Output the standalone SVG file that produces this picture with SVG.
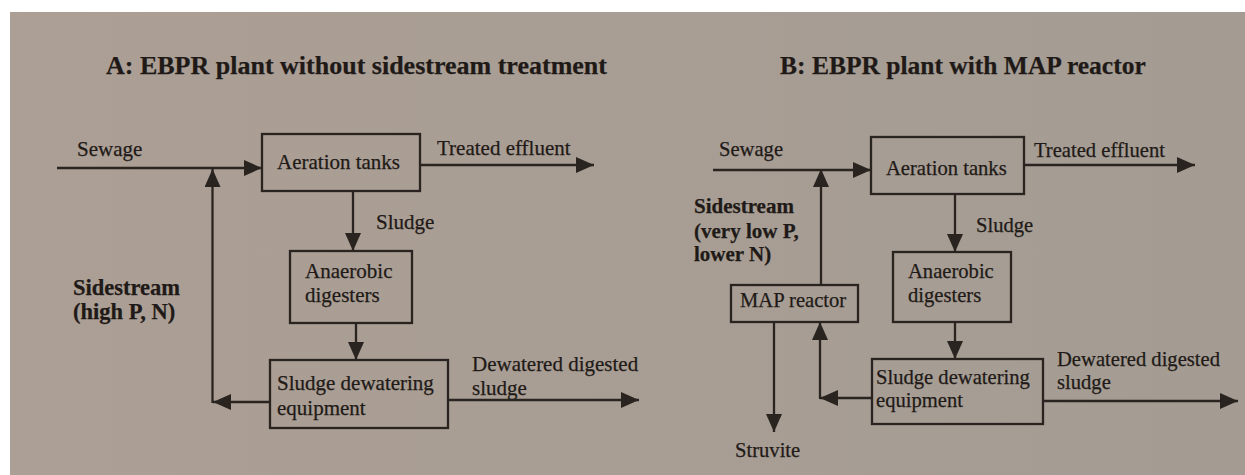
<svg xmlns="http://www.w3.org/2000/svg" width="1245" height="475" viewBox="0 0 1245 475">
  <defs>
    <linearGradient id="paper" x1="0" y1="0" x2="1" y2="0">
      <stop offset="0" stop-color="#ac9f95"/>
      <stop offset="1" stop-color="#a49c93"/>
    </linearGradient>
    <marker id="head" viewBox="0 0 18 16" refX="18" refY="8" markerWidth="18" markerHeight="16" markerUnits="userSpaceOnUse" orient="auto">
      <path d="M0,0 L18,8 L0,16 z" fill="#2a2420"/>
    </marker>
  </defs>
  <style>
    .box { fill: none; stroke: #2a2420; stroke-width: 2.3; }
    .flow { fill: none; stroke: #2a2420; stroke-width: 2.3; marker-end: url(#head); }
    text { font-family: "Liberation Serif", "Times New Roman", serif; fill: #1f1a17; stroke: #1f1a17; stroke-width: 0.25; }
    .title { font-size: 25.5px; font-weight: bold; }
    .lbl { font-size: 20.6px; }
    .bold { font-size: 21px; font-weight: bold; }
    .pa .title { font-size: 26px; }
    .pa .lbl { font-size: 21px; }
    .pa .bold { font-size: 22.5px; }
  </style>

  <!-- sheet -->
  <rect x="0" y="0" width="1245" height="475" fill="#ffffff" stroke="none"/>
  <rect x="10" y="12" width="1235" height="463" fill="url(#paper)"/>

  <!-- Panel A -->
  <g class="pa">
    <text class="title" x="106" y="74">A: EBPR plant without sidestream treatment</text>

    <g id="a-aeration">
      <rect class="box" x="262" y="134" width="158" height="57"/>
      <text class="lbl" x="277" y="169">Aeration tanks</text>
    </g>
    <g id="a-digesters">
      <rect class="box" x="290" y="251" width="122" height="72"/>
      <text class="lbl" x="305" y="278">Anaerobic</text>
      <text class="lbl" x="305" y="302">digesters</text>
    </g>
    <g id="a-dewatering">
      <rect class="box" x="270" y="360" width="178" height="68"/>
      <text class="lbl" x="277" y="390">Sludge dewatering</text>
      <text class="lbl" x="277" y="415">equipment</text>
    </g>

    <g id="a-labels">
      <text class="lbl" x="77" y="156">Sewage</text>
      <text class="lbl" x="437" y="155">Treated effluent</text>
      <text class="lbl" x="376" y="229">Sludge</text>
      <text class="bold" x="73" y="295">Sidestream</text>
      <text class="bold" x="73" y="319">(high P, N)</text>
      <text class="lbl" x="472" y="371">Dewatered digested</text>
      <text class="lbl" x="472" y="395">sludge</text>
    </g>
  </g>

  <!-- Panel B -->
  <g class="pb">
    <text class="title" x="780" y="74">B: EBPR plant with MAP reactor</text>

    <g id="b-aeration">
      <rect class="box" x="871" y="137" width="153" height="57"/>
      <text class="lbl" x="886" y="175">Aeration tanks</text>
    </g>
    <g id="b-digesters">
      <rect class="box" x="893" y="252" width="118" height="70"/>
      <text class="lbl" x="908" y="278">Anaerobic</text>
      <text class="lbl" x="908" y="302">digesters</text>
    </g>
    <g id="b-map">
      <rect class="box" x="731" y="285" width="127" height="37"/>
      <text class="lbl" x="740" y="307">MAP reactor</text>
    </g>
    <g id="b-dewatering">
      <rect class="box" x="872" y="359" width="171" height="65"/>
      <text class="lbl" x="876" y="384">Sludge dewatering</text>
      <text class="lbl" x="876" y="407">equipment</text>
    </g>

    <g id="b-labels">
      <text class="lbl" x="719" y="156">Sewage</text>
      <text class="lbl" x="1034" y="157">Treated effluent</text>
      <text class="lbl" x="976" y="232">Sludge</text>
      <text class="bold" x="694" y="213">Sidestream</text>
      <text class="bold" x="694" y="238">(very low P,</text>
      <text class="bold" x="694" y="261">lower N)</text>
      <text class="lbl" x="735" y="457">Struvite</text>
      <text class="lbl" x="1057" y="366">Dewatered digested</text>
      <text class="lbl" x="1057" y="389">sludge</text>
    </g>
  </g>

  <!-- connectors -->
  <g id="connectors">
    <!-- Panel A -->
    <path class="flow" d="M57,168 H262"/>
    <path class="flow" d="M420,165 H594"/>
    <path class="flow" d="M353,191 V251"/>
    <path class="flow" d="M356,323 V360"/>
    <path class="flow" d="M270,402 H213"/>
    <path class="flow" d="M212.5,403 V169"/>
    <path class="flow" d="M448,400 H639"/>
    <!-- Panel B -->
    <path class="flow" d="M713,170 H871"/>
    <path class="flow" d="M1024,165 H1195"/>
    <path class="flow" d="M821,285 V169"/>
    <path class="flow" d="M955,194 V252"/>
    <path class="flow" d="M955,322 V359"/>
    <path class="flow" d="M774,322 V432"/>
    <path class="flow" d="M872,398 H820"/>
    <path class="flow" d="M820,399 V322"/>
    <path class="flow" d="M1043,401 H1238"/>
  </g>
</svg>
